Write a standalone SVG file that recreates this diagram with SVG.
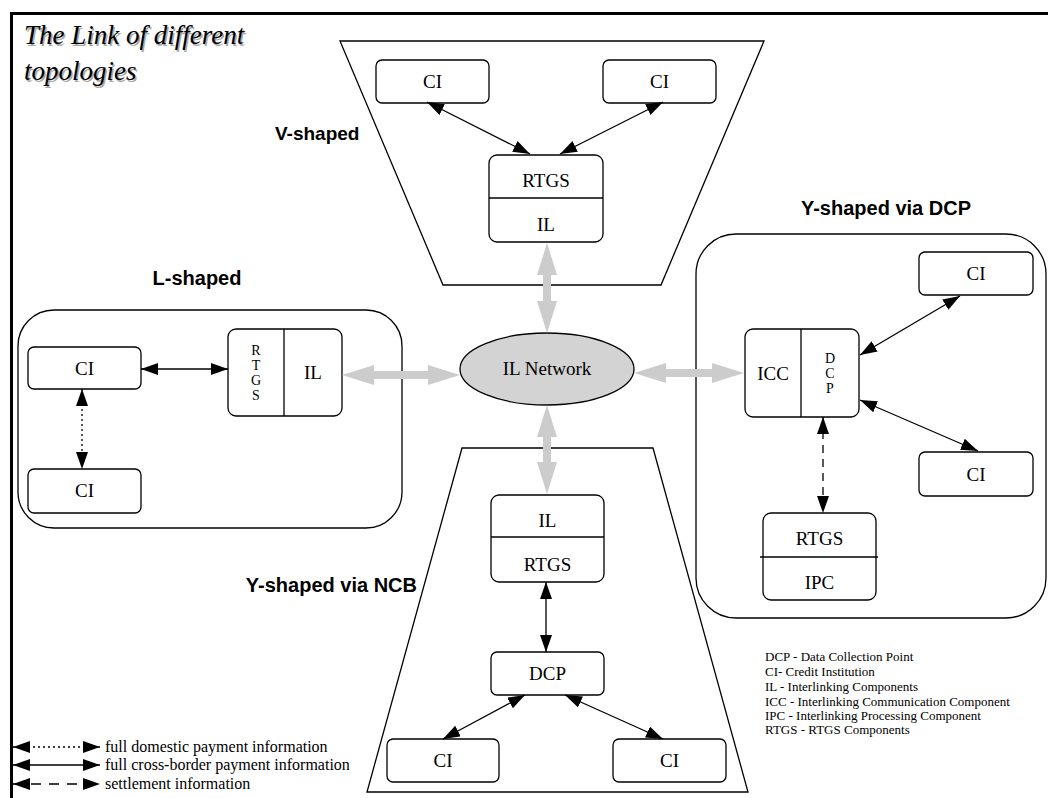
<svg xmlns="http://www.w3.org/2000/svg" width="1048" height="798" viewBox="0 0 1048 798">
<defs>
<style>
.box{fill:#fff;stroke:#000;stroke-width:1.3}
.frame{fill:none;stroke:#000;stroke-width:1.3}
.t{font-family:"Liberation Serif","Times New Roman",serif;font-size:19px;fill:#000;text-anchor:middle}
.tv{font-family:"Liberation Serif","Times New Roman",serif;font-size:14px;fill:#000;text-anchor:middle}
.lbl{font-family:"Liberation Sans",Arial,sans-serif;font-size:20px;font-weight:bold;fill:#000}
.leg{font-family:"Liberation Serif","Times New Roman",serif;font-size:16px;fill:#000}
.abbr{font-family:"Liberation Serif","Times New Roman",serif;font-size:13px;fill:#000}
.title{font-family:"Liberation Serif","Times New Roman",serif;font-size:27px;font-style:italic}
.c{stroke:#000;stroke-width:1.3;fill:none;marker-start:url(#ah);marker-end:url(#ah)}
.gray{fill:#cccccc;stroke:none}
</style>
<marker id="ah" markerUnits="userSpaceOnUse" markerWidth="19" markerHeight="13" refX="17" refY="6" orient="auto-start-reverse">
<path d="M0,0 L17,6 L0,12 z" fill="#000"/>
</marker>
</defs>
<rect width="1048" height="798" fill="#fff"/>
<path d="M11.5,798 V13.5 H1048" fill="none" stroke="#000" stroke-width="3"/>
<g id="title">
<text class="title" x="25.5" y="45.5" fill="#aaa">The Link of different</text>
<text class="title" x="25.5" y="81.5" fill="#aaa">topologies</text>
<text class="title" x="24" y="44" fill="#000">The Link of different</text>
<text class="title" x="24" y="80" fill="#000">topologies</text>
</g>

<g id="v-shaped">
<polygon class="frame" points="340,41 764,41 661,285 443,285"/>
<text class="lbl" x="275" y="140" style="font-size:19px">V-shaped</text>
<g id="v-ci1"><rect class="box" x="376" y="60" width="113" height="43" rx="6"/><text class="t" x="432.5" y="88">CI</text></g>
<g id="v-ci2"><rect class="box" x="603" y="60" width="113" height="43" rx="6"/><text class="t" x="659.5" y="88">CI</text></g>
<g id="v-rtgs"><rect class="box" x="489" y="155" width="114" height="87" rx="8"/><line x1="489" y1="198" x2="603" y2="198" stroke="#000" stroke-width="1.3"/><text class="t" x="546" y="187">RTGS</text><text class="t" x="546" y="231">IL</text></g>
</g>

<g id="l-shaped">
<rect class="frame" x="18" y="310" width="384" height="218" rx="36"/>
<text class="lbl" x="197" y="285" text-anchor="middle">L-shaped</text>
<g id="l-ci1"><rect class="box" x="28" y="347" width="113" height="42" rx="6"/><text class="t" x="84.5" y="375">CI</text></g>
<g id="l-ci2"><rect class="box" x="28" y="469" width="113" height="44" rx="6"/><text class="t" x="84.5" y="497">CI</text></g>
<g id="l-rtgs"><rect class="box" x="228" y="329" width="114" height="87" rx="8"/><line x1="284" y1="329" x2="284" y2="416" stroke="#000" stroke-width="1.3"/>
<text class="tv" x="256" y="355">R</text><text class="tv" x="256" y="370">T</text><text class="tv" x="256" y="385">G</text><text class="tv" x="256" y="400">S</text>
<text class="t" x="313" y="379">IL</text></g>
</g>

<g id="dcp-shaped">
<rect class="frame" x="696" y="234" width="350" height="384" rx="40"/>
<text class="lbl" x="886" y="215" text-anchor="middle">Y-shaped via DCP</text>
<g id="d-ci1"><rect class="box" x="919" y="252" width="114" height="43" rx="6"/><text class="t" x="976" y="280">CI</text></g>
<g id="d-icc"><rect class="box" x="745" y="329" width="114" height="88" rx="8"/><line x1="801" y1="329" x2="801" y2="417" stroke="#000" stroke-width="1.3"/>
<text class="t" x="773" y="380">ICC</text>
<text class="tv" x="830" y="363">D</text><text class="tv" x="830" y="378">C</text><text class="tv" x="830" y="393">P</text></g>
<g id="d-ci2"><rect class="box" x="919" y="452" width="114" height="44" rx="6"/><text class="t" x="976" y="481">CI</text></g>
<g id="d-rtgs"><rect class="box" x="763" y="513" width="113" height="87" rx="8"/><line x1="760" y1="557" x2="878" y2="557" stroke="#000" stroke-width="1.3"/><text class="t" x="819.5" y="545">RTGS</text><text class="t" x="819.5" y="589">IPC</text></g>
</g>

<g id="ncb-shaped">
<polygon class="frame" points="462,448 653,448 748,792 367,792"/>
<text class="lbl" x="417" y="592" text-anchor="end">Y-shaped via NCB</text>
<g id="n-il"><rect class="box" x="491" y="495" width="113" height="87" rx="8"/><line x1="491" y1="537" x2="604" y2="537" stroke="#000" stroke-width="1.3"/><text class="t" x="547.5" y="527">IL</text><text class="t" x="547.5" y="571">RTGS</text></g>
<g id="n-dcp"><rect class="box" x="491" y="652" width="113" height="43" rx="6"/><text class="t" x="547.5" y="680">DCP</text></g>
<g id="n-ci1"><rect class="box" x="387" y="739" width="112" height="43" rx="6"/><text class="t" x="443" y="767">CI</text></g>
<g id="n-ci2"><rect class="box" x="613" y="739" width="113" height="43" rx="6"/><text class="t" x="669.5" y="767">CI</text></g>
</g>

<g id="il-network">
<ellipse cx="547" cy="369" rx="87" ry="36" fill="#d3d3d3" stroke="#000" stroke-width="1.3"/>
<text class="t" x="547" y="375">IL Network</text>
</g>

<g id="connectors">
<polygon class="gray" points="547,243 557,275 551,275 551,301 557,301 547,333 537,301 543,301 543,275 537,275"/>
<polygon class="gray" points="547,405 557,437 551,437 551,462 557,462 547,494 537,462 543,462 543,437 537,437"/>
<polygon class="gray" points="342,375 374,365 374,371 428,371 428,365 460,375 428,385 428,379 374,379 374,385"/>
<polygon class="gray" points="634,373 666,363 666,369 712,369 712,363 744,373 712,383 712,377 666,377 666,383"/>
<line class="c" x1="427" y1="102" x2="530" y2="154"/>
<line class="c" x1="663" y1="102" x2="560" y2="154"/>
<line class="c" x1="141" y1="369" x2="228" y2="369"/>
<line class="c" x1="82" y1="389" x2="82" y2="469" stroke-dasharray="2,3"/>
<line class="c" x1="960" y1="296" x2="860" y2="355"/>
<line class="c" x1="860" y1="400" x2="978" y2="451"/>
<line class="c" x1="823" y1="417" x2="823" y2="513" stroke-dasharray="8,6" stroke="#333"/>
<line class="c" x1="546" y1="582" x2="546" y2="652"/>
<line class="c" x1="525" y1="695" x2="443" y2="739"/>
<line class="c" x1="565" y1="695" x2="663" y2="739"/>
</g>

<g id="legend">
<line class="c" x1="13" y1="747" x2="100" y2="747" stroke-dasharray="2,3"/>
<text class="leg" x="105" y="752">full domestic payment information</text>
<line class="c" x1="13" y1="765" x2="100" y2="765"/>
<text class="leg" x="105" y="770">full cross-border payment information</text>
<line class="c" x1="13" y1="784" x2="100" y2="784" stroke-dasharray="10,8"/>
<text class="leg" x="105" y="789">settlement information</text>
</g>

<g id="abbreviations">
<text class="abbr" x="765" y="661">DCP  - Data Collection Point</text>
<text class="abbr" x="765" y="676">CI- Credit Institution</text>
<text class="abbr" x="765" y="691">IL - Interlinking Components</text>
<text class="abbr" x="765" y="706">ICC - Interlinking Communication Component</text>
<text class="abbr" x="765" y="720">IPC - Interlinking Processing Component</text>
<text class="abbr" x="765" y="734">RTGS - RTGS Components</text>
</g>
</svg>
